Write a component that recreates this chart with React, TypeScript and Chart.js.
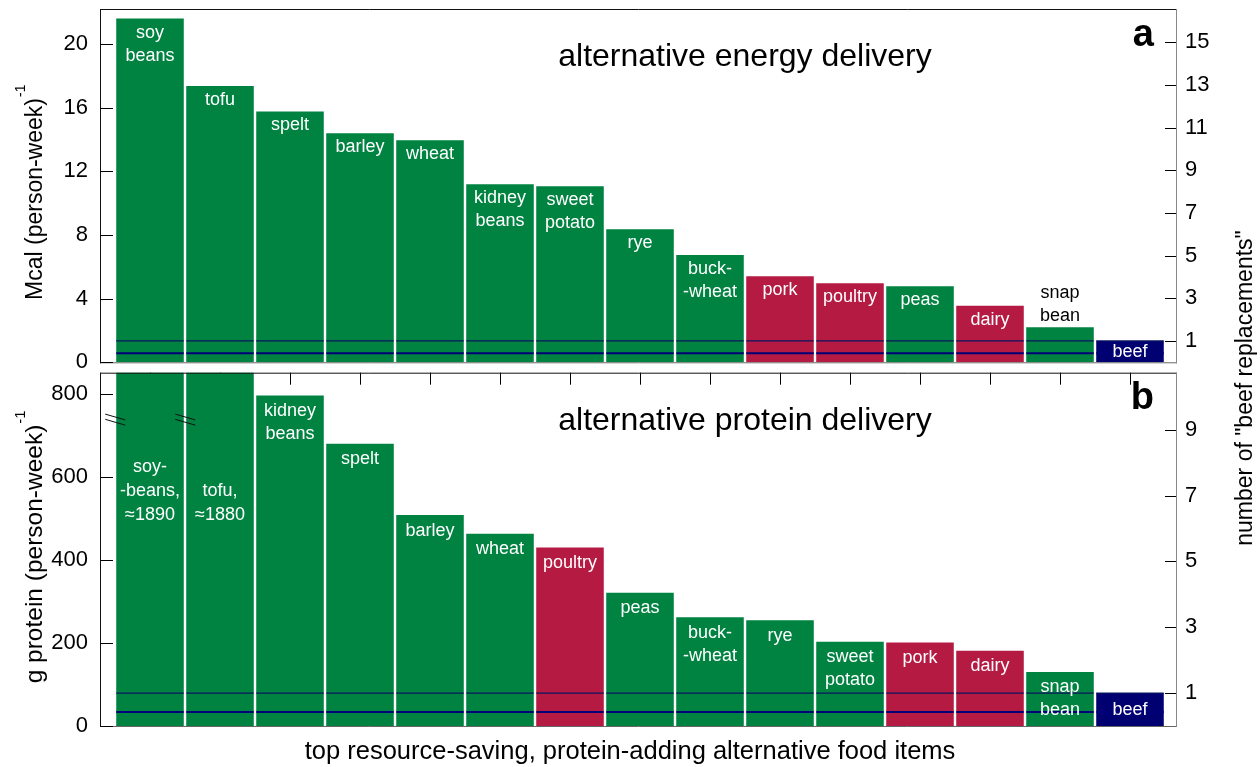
import React, { useEffect, useRef } from "react";
import { Chart, registerables } from "chart.js";
Chart.register(...registerables);

const FONT = '"Liberation Sans", Arial, Helvetica, sans-serif';
const GREEN = "#008241";
const RED = "#b51b42";
const NAVY = "#000070";

// ---- panel a: alternative energy delivery ----
const energyItems = ["soy beans", "tofu", "spelt", "barley", "wheat", "kidney beans", "sweet potato", "rye", "buckwheat", "pork", "poultry", "peas", "dairy", "snap bean", "beef"];
const energyValues = [21.6, 17.36, 15.76, 14.4, 13.96, 11.19, 11.07, 8.36, 6.75, 5.41, 4.97, 4.78, 3.56, 2.2, 1.34];
const energyKinds = ["plant", "plant", "plant", "plant", "plant", "plant", "plant", "plant", "plant", "animal", "animal", "plant", "animal", "plant", "beef"];
const energyLabels = [["soy", "beans"], ["tofu"], ["spelt"], ["barley"], ["wheat"], ["kidney", "beans"], ["sweet", "potato"], ["rye"], ["buck-", "-wheat"], ["pork"], ["poultry"], ["peas"], ["dairy"], ["snap", "bean"], ["beef"]];
const energyRefLines = [1.34, 0.57];
const energyLeftTicks = [0, 4, 8, 12, 16, 20];
const energyRightTicks = [1, 3, 5, 7, 9, 11, 13, 15];
const energyYMax = 22.2;

// ---- panel b: alternative protein delivery ----
const proteinItems = ["soybeans", "tofu", "kidney beans", "spelt", "barley", "wheat", "poultry", "peas", "buckwheat", "rye", "sweet potato", "pork", "dairy", "snap bean", "beef"];
const proteinValues = [1890, 1880, 796, 680, 508, 463, 430, 321, 262, 255, 203, 201, 181, 130, 79.3];
const proteinKinds = ["plant", "plant", "plant", "plant", "plant", "plant", "animal", "plant", "plant", "plant", "plant", "animal", "animal", "plant", "beef"];
const proteinLabels = [["soy-", "-beans,", "≈1890"], ["tofu,", "≈1880"], ["kidney", "beans"], ["spelt"], ["barley"], ["wheat"], ["poultry"], ["peas"], ["buck-", "-wheat"], ["rye"], ["sweet", "potato"], ["pork"], ["dairy"], ["snap", "bean"], ["beef"]];
const proteinRefLines = [79.3, 34];
const proteinLeftTicks = [0, 200, 400, 600, 800];
const proteinRightTicks = [1, 3, 5, 7, 9];
const proteinYMax = 851;
const proteinBreakValue = 738;

type Panel = {
  items: string[];
  values: number[];
  kinds: string[];
  labels: string[][];
  refLines: number[];
  leftTicks: number[];
  rightTicks: number[];
  yMax: number;
  areaTop: number;
  areaBottom: number;
  title: string;
  letter: string;
  labelOffset: number;
  above: number[];
  breakValue?: number;
  yTitle: string;
  yTitleCenter: number;
  yTitleSize: number;
  xTicks: boolean;
  extraText?: (ctx: CanvasRenderingContext2D) => void;
};

const colorOf = (k: string) => (k === "plant" ? GREEN : k === "animal" ? RED : NAVY);

function line(ctx: CanvasRenderingContext2D, x1: number, y1: number, x2: number, y2: number) {
  ctx.beginPath();
  ctx.moveTo(x1, y1);
  ctx.lineTo(x2, y2);
  ctx.stroke();
}

function rotatedTitle(ctx: CanvasRenderingContext2D, main: string, sup: string, xBase: number, yCenter: number, size: number) {
  ctx.save();
  ctx.translate(xBase, yCenter);
  ctx.rotate(-Math.PI / 2);
  ctx.fillStyle = "#000";
  ctx.textBaseline = "alphabetic";
  ctx.textAlign = "left";
  ctx.font = `${size}px ${FONT}`;
  const w = ctx.measureText(main).width;
  ctx.fillText(main, -w / 2, 0);
  if (sup) {
    ctx.font = `${Math.round(size * 0.62)}px ${FONT}`;
    ctx.fillText(sup, w / 2 + 1, -17);
  }
  ctx.restore();
}

function makePlugin(p: Panel) {
  return {
    id: "panelDecor",
    beforeDatasetsDraw(chart: any) {
      const { ctx, chartArea: a } = chart;
      ctx.save();
      ctx.lineWidth = 1;
      ctx.strokeStyle = "#666";
      line(ctx, a.left, a.bottom + 0.5, a.right, a.bottom + 0.5);
      ctx.strokeStyle = "#000";
      const yl = chart.scales.y;
      const yr = chart.scales.y2;
      yl.ticks.forEach((t: any) => {
        const y = Math.round(yl.getPixelForValue(t.value)) + 0.5;
        line(ctx, a.left, y, a.left + 13, y);
      });
      yr.ticks.forEach((t: any) => {
        const y = Math.round(yr.getPixelForValue(t.value)) + 0.5;
        line(ctx, a.right - 12, y, a.right, y);
      });
      if (p.xTicks) {
        const meta = chart.getDatasetMeta(0);
        meta.data.forEach((el: any) => {
          const x = Math.round(el.x) + 0.5;
          line(ctx, x, a.top, x, a.top + 12);
        });
      }
      ctx.restore();
    },
    afterDatasetsDraw(chart: any) {
      const { ctx, chartArea: a } = chart;
      const ys = chart.scales.y;
      const meta = chart.getDatasetMeta(0);
      ctx.save();
      ctx.beginPath();
      ctx.rect(a.left, a.top, a.right - a.left, a.bottom - a.top);
      ctx.clip();
      // reference lines inside each bar
      meta.data.forEach((el: any) => {
        const x1 = el.x - el.width / 2;
        const x2 = el.x + el.width / 2;
        p.refLines.forEach((v, k) => {
          const y = ys.getPixelForValue(v);
          ctx.strokeStyle = k === 0 ? "#0a1560" : "#000078";
          ctx.lineWidth = k === 0 ? 1.2 : 2;
          line(ctx, x1, y, x2, y);
        });
      });
      ctx.restore();

      ctx.save();
      // break marks on clipped bars
      if (p.breakValue !== undefined) {
        const yb = ys.getPixelForValue(p.breakValue);
        ctx.strokeStyle = "#111";
        ctx.lineWidth = 1;
        meta.data.forEach((el: any, i: number) => {
          if (p.values[i] > p.yMax) {
            const ex = el.x - el.width / 2 - 1;
            [-2.6, 2.6].forEach((d) => line(ctx, ex - 10, yb + d - 2.9, ex + 10, yb + d + 2.9));
          }
        });
      }
      // frame
      ctx.lineWidth = 1;
      ctx.strokeStyle = "#111";
      line(ctx, a.left + 0.5, a.top, a.left + 0.5, a.bottom + 1);
      line(ctx, a.left, a.top + 0.5, a.right, a.top + 0.5);
      ctx.strokeStyle = "#888";
      line(ctx, a.right - 0.5, a.top, a.right - 0.5, a.bottom + 1);

      // bar labels
      ctx.font = `18px ${FONT}`;
      ctx.textAlign = "center";
      ctx.textBaseline = "middle";
      meta.data.forEach((el: any, i: number) => {
        const lines = p.labels[i];
        const n = lines.length;
        let pos: number[];
        let color = "#fff";
        if (p.kinds[i] === "beef") {
          const mid = (el.y + el.base) / 2;
          pos = lines.map((_, k) => mid + (k - (n - 1) / 2) * 23);
        } else if (p.above.includes(i)) {
          color = "#000";
          pos = lines.map((_, k) => el.y - 11 - (n - 1 - k) * 23);
        } else if (el.y < a.top) {
          pos = lines.map((_, k) => a.top + 142 - (n - 1 - k) * 24);
        } else {
          pos = lines.map((_, k) => el.y + p.labelOffset + k * 23);
        }
        ctx.fillStyle = color;
        lines.forEach((s, k) => ctx.fillText(s, el.x, pos[k]));
      });

      // panel title and letter
      ctx.fillStyle = "#000";
      ctx.textBaseline = "alphabetic";
      ctx.textAlign = "center";
      ctx.font = `32px ${FONT}`;
      ctx.fillText(p.title, 745, a.top + 57);
      ctx.textAlign = "right";
      ctx.font = `bold 38px ${FONT}`;
      ctx.fillText(p.letter, 1154, a.top + 36.5);
      ctx.restore();
    },
    afterDraw(chart: any) {
      const { ctx } = chart;
      rotatedTitle(ctx, p.yTitle, "-1", 42, p.yTitleCenter, p.yTitleSize);
      if (p.extraText) p.extraText(ctx);
    },
  };
}

function makeConfig(p: Panel): any {
  const fix = (w: number) => (s: any) => {
    s.width = w;
    s.paddingTop = 0;
    s.paddingBottom = 0;
    s.paddingLeft = 0;
    s.paddingRight = 0;
  };
  const beef = p.values[p.values.length - 1];
  return {
    type: "bar",
    data: {
      datasets: [
        {
          data: p.values.map((v, i) => ({ x: i + 1, y: v })),
          backgroundColor: p.kinds.map(colorOf),
          borderWidth: 0,
          barPercentage: 0.965,
          categoryPercentage: 1,
        },
      ],
    },
    options: {
      responsive: false,
      animation: false,
      devicePixelRatio: 1,
      layout: { padding: { top: p.areaTop, bottom: 767 - p.areaBottom, left: 0, right: 0 } },
      plugins: { legend: { display: false }, tooltip: { enabled: false }, title: { display: false } },
      scales: {
        x: { type: "linear", display: false, offset: false, min: 1 - 50 / 70, max: 15 + 47 / 70 },
        y: {
          type: "linear",
          position: "left",
          min: 0,
          max: p.yMax,
          afterBuildTicks: (s: any) => {
            s.ticks = p.leftTicks.map((v) => ({ value: v }));
          },
          afterFit: fix(100),
          grid: { display: false, drawTicks: false },
          border: { display: false },
          ticks: { padding: 12, color: "#000", font: { family: FONT, size: 22 } },
        },
        y2: {
          type: "linear",
          position: "right",
          min: 0,
          max: p.yMax / beef,
          afterBuildTicks: (s: any) => {
            s.ticks = p.rightTicks.map((v) => ({ value: v }));
          },
          afterFit: fix(83),
          grid: { display: false, drawTicks: false },
          border: { display: false },
          ticks: { padding: 8, color: "#000", font: { family: FONT, size: 22 } },
        },
      },
    },
    plugins: [makePlugin(p)],
  };
}

const panelA: Panel = {
  items: energyItems,
  values: energyValues,
  kinds: energyKinds,
  labels: energyLabels,
  refLines: energyRefLines,
  leftTicks: energyLeftTicks,
  rightTicks: energyRightTicks,
  yMax: energyYMax,
  areaTop: 9,
  areaBottom: 362.3,
  title: "alternative energy delivery",
  letter: "a",
  labelOffset: 14,
  above: [13],
  yTitle: "Mcal (person-week)",
  yTitleCenter: 199,
  yTitleSize: 23,
  xTicks: false,
  extraText: (ctx) => rotatedTitle(ctx, 'number of "beef replacements"', "", 1252, 388, 23),
};

const panelB: Panel = {
  items: proteinItems,
  values: proteinValues,
  kinds: proteinKinds,
  labels: proteinLabels,
  refLines: proteinRefLines,
  leftTicks: proteinLeftTicks,
  rightTicks: proteinRightTicks,
  yMax: proteinYMax,
  areaTop: 372.7,
  areaBottom: 726,
  title: "alternative protein delivery",
  letter: "b",
  labelOffset: 15.5,
  above: [],
  breakValue: proteinBreakValue,
  yTitle: "g protein (person-week)",
  yTitleCenter: 554,
  yTitleSize: 24.5,
  xTicks: true,
  extraText: (ctx) => {
    ctx.save();
    ctx.fillStyle = "#000";
    ctx.font = `25.5px ${FONT}`;
    ctx.textAlign = "center";
    ctx.textBaseline = "middle";
    ctx.fillText("top resource-saving, protein-adding alternative food items", 630, 752);
    ctx.restore();
  },
};

export default function App() {
  const refA = useRef<HTMLCanvasElement>(null);
  const refB = useRef<HTMLCanvasElement>(null);
  useEffect(() => {
    const a = new Chart(refA.current as HTMLCanvasElement, makeConfig(panelA));
    const b = new Chart(refB.current as HTMLCanvasElement, makeConfig(panelB));
    return () => {
      a.destroy();
      b.destroy();
    };
  }, []);
  const cs: React.CSSProperties = { position: "absolute", left: 0, top: 0, width: 1260, height: 767 };
  return (
    <div style={{ position: "absolute", left: 0, top: 0, width: 1260, height: 767, background: "#fff" }}>
      <canvas ref={refA} width={1260} height={767} style={cs} />
      <canvas ref={refB} width={1260} height={767} style={cs} />
    </div>
  );
}
